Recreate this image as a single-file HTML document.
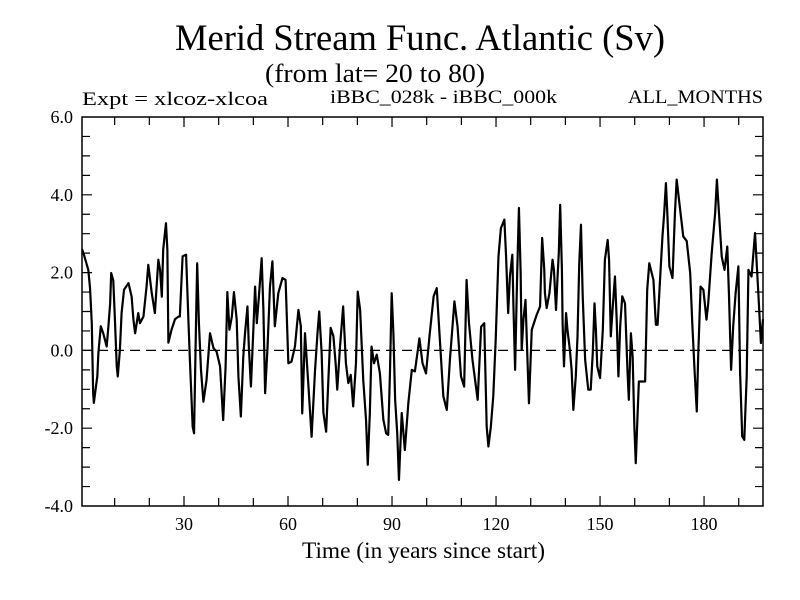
<!DOCTYPE html>
<html><head><meta charset="utf-8"><style>
html,body{margin:0;padding:0;background:#fff;}
svg{display:block;}
text{font-family:"Liberation Serif",serif;fill:#000;}
</style></head><body>
<svg id="chart" width="800" height="600" viewBox="0 0 800 600">
<text x="175" y="50" font-size="37" textLength="490" lengthAdjust="spacingAndGlyphs">Merid Stream Func. Atlantic (Sv)</text>
<text x="265" y="82" font-size="26" textLength="220" lengthAdjust="spacingAndGlyphs">(from lat= 20 to 80)</text>
<text x="82" y="105" font-size="19" textLength="186" lengthAdjust="spacingAndGlyphs">Expt = xlcoz-xlcoa</text>
<text x="330" y="103" font-size="19" textLength="227" lengthAdjust="spacingAndGlyphs">iBBC_028k - iBBC_000k</text>
<text x="628" y="103" font-size="19" textLength="135" lengthAdjust="spacingAndGlyphs">ALL_MONTHS</text>
<text x="302" y="558" font-size="23" textLength="243" lengthAdjust="spacingAndGlyphs">Time (in years since start)</text>
<g id="axes"></g>
<g id="series"></g>
</svg>
<script>
const years = [0.58,1,2.4,2.9,3.4,3.8,4,4.6,5,5.3,6,6.7,7.7,8.2,8.7,9,9.6,10,10.6,10.9,11.5,12,12.7,14,14.9,15.4,15.9,16.8,17.3,18.3,19.2,19.7,20.7,21.6,22.6,23.1,23.6,24,24.8,25.2,25.5,26.4,27.4,28.4,28.8,29.6,30.6,31.3,31.7,32.5,32.9,33.5,33.8,34.3,34.9,35.6,36.5,37.5,38.5,39.4,40.4,41.3,42,42.5,43.1,43.8,44.4,45.2,45.7,46.4,47.1,47.6,48.3,48.7,49.3,50,50.5,51,51.6,52.4,52.9,53.4,54.1,54.8,55.5,56.2,57.2,58.4,59.3,60.1,61,62,63,63.7,64.1,64.9,65.9,66.8,67.8,68.5,69,69.7,70.2,71,71.6,72.3,73.1,73.8,74.2,75,75.9,76.7,77.4,78.1,78.8,79.6,80.1,80.8,81.7,82.5,83,83.6,84.1,84.8,85.6,86.5,87.5,88.3,88.9,89.4,89.9,90.4,90.9,91.5,92,92.8,93.7,94.7,95.7,96.6,97.9,98.8,99.8,100.8,102,102.9,103.8,104.8,105.8,106.7,108,108.9,109.9,110.8,111.5,112.2,113.2,114.7,115.7,116.6,117.3,117.8,118.5,119.2,119.9,120.7,121.4,122.4,122.9,123.5,124,124.7,125,125.5,126.1,126.6,127.1,127.4,127.9,128.5,129.1,129.5,130.3,131.7,132.7,133.3,133.9,134.1,134.6,135.4,136.3,136.7,137.3,137.7,138.1,138.5,139,139.2,139.6,140.2,140.6,141.3,141.8,142.3,143,143.5,144,144.5,145,145.7,146.6,147.3,147.9,148.4,148.8,149.2,150,150.8,151.4,152.2,152.6,153.1,153.6,154.3,154.8,155.3,155.8,156.4,157.2,157.9,158.3,158.9,159.4,159.9,160.3,160.8,161.2,163,163.6,164.2,165.4,166.1,166.6,167.3,168,168.5,169,169.4,170,170.9,171.6,172.1,173.1,174,175,176,176.6,177.2,177.9,178.3,179,179.8,180.7,181.2,182.2,183.2,183.7,184.3,185.1,185.9,186.7,187.2,187.8,188.4,189.1,189.9,190.4,191,191.6,192.3,192.8,193.7,194.7,195.7,196.4,197];
const values = [2.6,2.5,2.07,1.6,0.7,-1.1,-1.35,-0.93,-0.67,-0.07,0.62,0.44,0.1,0.62,1.21,1.99,1.8,0.96,-0.41,-0.67,0,0.96,1.56,1.73,1.38,0.8,0.44,0.96,0.7,0.87,1.64,2.2,1.47,0.96,2.33,2.07,1.38,2.59,3.27,2.59,0.2,0.53,0.8,0.87,0.87,2.42,2.46,0.7,-0.24,-1.96,-2.13,0.87,2.24,0.7,-0.5,-1.32,-0.76,0.44,0.06,-0.03,-0.41,-1.79,-0.41,1.5,0.53,0.87,1.5,0.79,-0.67,-1.7,-0.16,0.44,1.13,0.1,-0.93,0.53,1.64,0.7,1.38,2.37,1.04,-1.1,0.1,1.64,2.29,0.62,1.47,1.86,1.81,-0.33,-0.29,0.1,1.04,0.62,-1.62,0.44,-0.93,-2.22,-0.5,0.44,1.0,-0.07,-1.6,-2.09,-0.84,0.58,0.36,-0.41,-1.01,0.1,1.13,-0.33,-0.84,-0.63,-1.44,-0.33,1.51,1.04,-0.76,-1.78,-2.94,-1.61,0.1,-0.33,-0.11,-0.59,-1.78,-2.13,-2.17,-0.59,1.47,0.44,-1.27,-2.13,-3.33,-1.61,-2.56,-1.36,-0.5,-0.54,0.31,-0.33,-0.59,0.36,1.39,1.6,0.27,-1.18,-1.53,-0.24,1.26,0.61,-0.67,-0.93,1.81,0.7,-0.24,-1.27,0.61,0.7,-1.96,-2.47,-1.96,-1.18,0.27,2.41,3.14,3.36,2.41,0.96,1.9,2.46,1.21,-0.5,1.99,3.66,1.99,0.01,0.79,1.3,-0.33,-1.36,0.53,0.91,1.13,2.89,2.1,1.47,1.09,1.47,2.33,2.07,1.04,1.81,2.5,3.74,2.07,0.7,-0.41,0.96,0.53,0.01,-0.5,-1.53,-0.67,0.36,2.24,3.23,1.39,-0.24,-1.01,-1.01,-0.07,1.21,0.53,-0.41,-0.71,0.53,2.33,2.84,2.33,0.36,1.04,1.9,0.79,-0.67,0.61,1.39,1.21,-0.5,-1.27,0.44,-0.16,-1.96,-2.9,-1.7,-0.8,-0.8,1.56,2.24,1.81,0.66,0.66,1.81,2.93,3.53,4.3,3.53,2.16,1.86,3.53,4.39,3.62,2.93,2.81,1.99,0.7,-0.41,-1.57,-0.16,1.64,1.56,0.79,1.21,2.5,3.53,4.39,3.53,2.41,2.07,2.67,1.39,-0.5,0.61,1.47,2.16,-0.59,-2.21,-2.3,-0.67,2.07,1.9,3.02,1.39,0.19,0.8];
const xTickLabels = [30,60,90,120,150,180];
const yTickLabels = [-4.0,-2.0,0.0,2.0,4.0,6.0];

const L=82,R=763,T=117,B=506;
const XMIN=0.58,XMAX=197,YMIN=-4,YMAX=6;
function xs(v){return L+(v-XMIN)/(XMAX-XMIN)*(R-L);}
function ys(v){return B-(v-YMIN)/(YMAX-YMIN)*(B-T);}
const NS="http://www.w3.org/2000/svg";
function mk(tag,attrs,parent){const e=document.createElementNS(NS,tag);for(const k in attrs)e.setAttribute(k,attrs[k]);parent.appendChild(e);return e;}
const axes=document.getElementById('axes');
const frame=mk('rect',{x:L,y:T,width:R-L,height:B-T,fill:'none',stroke:'#000','stroke-width':1.5},axes);


for(let t=10;t<197;t+=10){
  const x=xs(t);
  const len=(t%30===0)?10:8;
  const tk=mk('path',{d:`M${x},${B}V${B-len}M${x},${T}V${T+len}`,stroke:'#000','stroke-width':1.2},axes);
  
  
}
xTickLabels.forEach(t=>{
  const e=mk('text',{x:xs(t),y:530,'font-size':18,'text-anchor':'middle'},axes);
  e.textContent=String(t);
  
  
});
for(let v=-3.5;v<6;v+=0.5){
  const y=ys(v);
  const len=(Math.abs(v%2)<1e-6)?10:8;
  const tk=mk('path',{d:`M${L},${y}H${L+len}M${R},${y}H${R-len}`,stroke:'#000','stroke-width':1.2},axes);
  
  
}
yTickLabels.forEach(v=>{
  const e=mk('text',{x:73,y:ys(v)+6,'font-size':18,'text-anchor':'end'},axes);
  e.textContent=v.toFixed(1);
  
  
});
const zero=mk('line',{x1:L,x2:R,y1:ys(0),y2:ys(0),stroke:'#000','stroke-width':1.2,'stroke-dasharray':'10,6'},axes);


const series=document.getElementById('series');
const d=years.map((yr,i)=>(i?'L':'M')+xs(yr).toFixed(2)+','+ys(values[i]).toFixed(2)).join('');
const line=mk('path',{d:d,fill:'none',stroke:'#000','stroke-width':2.2,'stroke-linejoin':'round'},series);


</script>
</body></html>
